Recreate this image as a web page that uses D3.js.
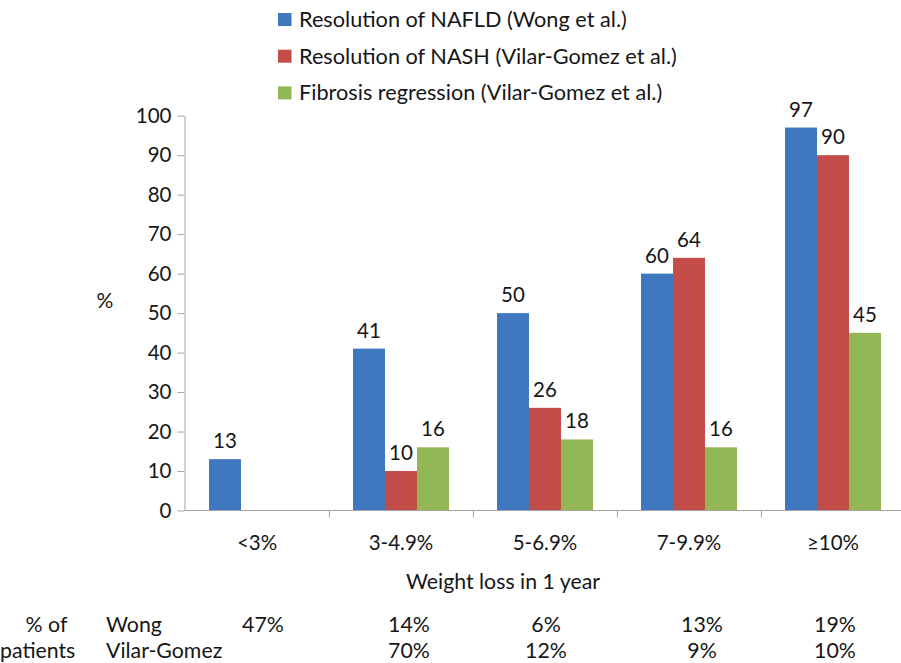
<!DOCTYPE html>
<html>
<head>
<meta charset="utf-8">
<script src="https://cdn.jsdelivr.net/npm/d3@7"></script>
<style>
  html, body { margin: 0; padding: 0; background: #fff; }
  svg { display: block; font-family: Lato, "Open Sans", sans-serif; }
  text { fill: #161616; }
</style>
</head>
<body>
<svg id="chart" width="901" height="663"></svg>
<script>
// Weight-loss categories (x axis)
const categories = ["<3%", "3-4.9%", "5-6.9%", "7-9.9%", "\u226510%"];

// Series (percent of patients reaching the outcome)
const seriesNames = [
  "Resolution of NAFLD (Wong et al.)",
  "Resolution of NASH (Vilar-Gomez et al.)",
  "Fibrosis regression (Vilar-Gomez et al.)"
];
const nafldWong = [13, 41, 50, 60, 97];
const nashVilarGomez = [null, 10, 26, 64, 90];
const fibrosisVilarGomez = [null, 16, 18, 16, 45];

// Y axis ticks
const yTicks = [0, 10, 20, 30, 40, 50, 60, 70, 80, 90, 100];

// Share of patients in each weight-loss category, per study
const tableRowLabels = ["Wong", "Vilar-Gomez"];
const wongShare = ["47%", "14%", "6%", "13%", "19%"];
const vilarGomezShare = [null, "70%", "12%", "9%", "10%"];

const colors = ["#3F78BE", "#C44D4A", "#93B756"];
const seriesValues = [nafldWong, nashVilarGomez, fibrosisVilarGomez];

const svg = d3.select("#chart");
const axisColor = "#a3a3a3";

// Scales
const x = d3.scaleBand().domain(categories).range([185, 905]).padding(0);
const xSub = d3.scaleBand().domain(d3.range(seriesNames.length))
  .range([0, x.bandwidth()]).paddingInner(0).paddingOuter(0.75);
const y = d3.scaleLinear().domain([0, 100]).range([510.5, 115.7]);

// Bars
const barData = [];
seriesValues.forEach((vals, s) => {
  vals.forEach((v, i) => {
    if (v !== null) barData.push({ cat: categories[i], s, v });
  });
});

svg.append("g").selectAll("rect").data(barData).join("rect")
  .attr("x", d => x(d.cat) + xSub(d.s))
  .attr("y", d => y(d.v))
  .attr("width", xSub.bandwidth())
  .attr("height", d => y(0) - y(d.v))
  .attr("fill", d => colors[d.s]);

// Value labels
svg.append("g").selectAll("text").data(barData).join("text")
  .attr("x", d => x(d.cat) + xSub(d.s) + xSub.bandwidth() / 2)
  .attr("y", d => y(d.v) - 11)
  .attr("text-anchor", "middle")
  .attr("font-size", 20.5)
  .text(d => d.v);

// Y axis
const yAxis = svg.append("g")
  .attr("transform", "translate(184.5,0)")
  .call(d3.axisLeft(y).tickValues(yTicks).tickSize(7).tickSizeOuter(0).tickPadding(6));
yAxis.select(".domain").attr("stroke", axisColor);
yAxis.selectAll(".tick line").attr("stroke", axisColor);
yAxis.selectAll(".tick text").attr("font-size", 20.5).attr("fill", "#161616")
  .attr("font-family", "Lato, sans-serif");

// X axis: baseline with boundary ticks
const xAxis = svg.append("g").attr("transform", `translate(0,${y(0)})`);
xAxis.append("line")
  .attr("x1", x.range()[0]).attr("x2", x.range()[1])
  .attr("stroke", axisColor);
xAxis.selectAll("line.tick").data(categories.slice(1)).join("line")
  .attr("class", "tick")
  .attr("x1", d => x(d) + 0.5).attr("x2", d => x(d) + 0.5)
  .attr("y1", 0).attr("y2", 7)
  .attr("stroke", axisColor);
xAxis.selectAll("text").data(categories).join("text")
  .attr("x", d => x(d) + x.bandwidth() / 2)
  .attr("y", 39.5)
  .attr("text-anchor", "middle")
  .attr("font-size", 20.5)
  .text(d => d);

// Axis titles
svg.append("text").attr("x", 105).attr("y", 308)
  .attr("text-anchor", "middle").attr("font-size", 21).text("%");
svg.append("text").attr("x", 503).attr("y", 589)
  .attr("text-anchor", "middle").attr("font-size", 21.3).text("Weight loss in 1 year");

// Legend
const legend = svg.append("g").attr("transform", "translate(278,13)");
seriesNames.forEach((name, i) => {
  const g = legend.append("g").attr("transform", `translate(0,${i * 36.7})`);
  g.append("rect").attr("width", 13.5).attr("height", 13).attr("fill", colors[i]);
  g.append("text").attr("x", 21).attr("y", 14).attr("font-size", 21.7).text(name);
});

// Patient-share table below the axis
const tableCols = [263, 409, 546, 702, 835];
const tableRows = [wongShare, vilarGomezShare];
const rowBaselines = [632, 658];
const table = svg.append("g").attr("font-size", 21.3);
table.append("text").attr("x", 46.5).attr("y", rowBaselines[0])
  .attr("text-anchor", "middle").text("% of");
table.append("text").attr("x", 0).attr("y", rowBaselines[1]).text("patients");
tableRowLabels.forEach((lab, r) => {
  table.append("text").attr("x", 106).attr("y", rowBaselines[r]).text(lab);
  tableRows[r].forEach((d, i) => {
    if (d === null) return;
    table.append("text")
      .attr("x", tableCols[i])
      .attr("y", rowBaselines[r])
      .attr("text-anchor", "middle")
      .text(d);
  });
});
</script>
</body>
</html>
